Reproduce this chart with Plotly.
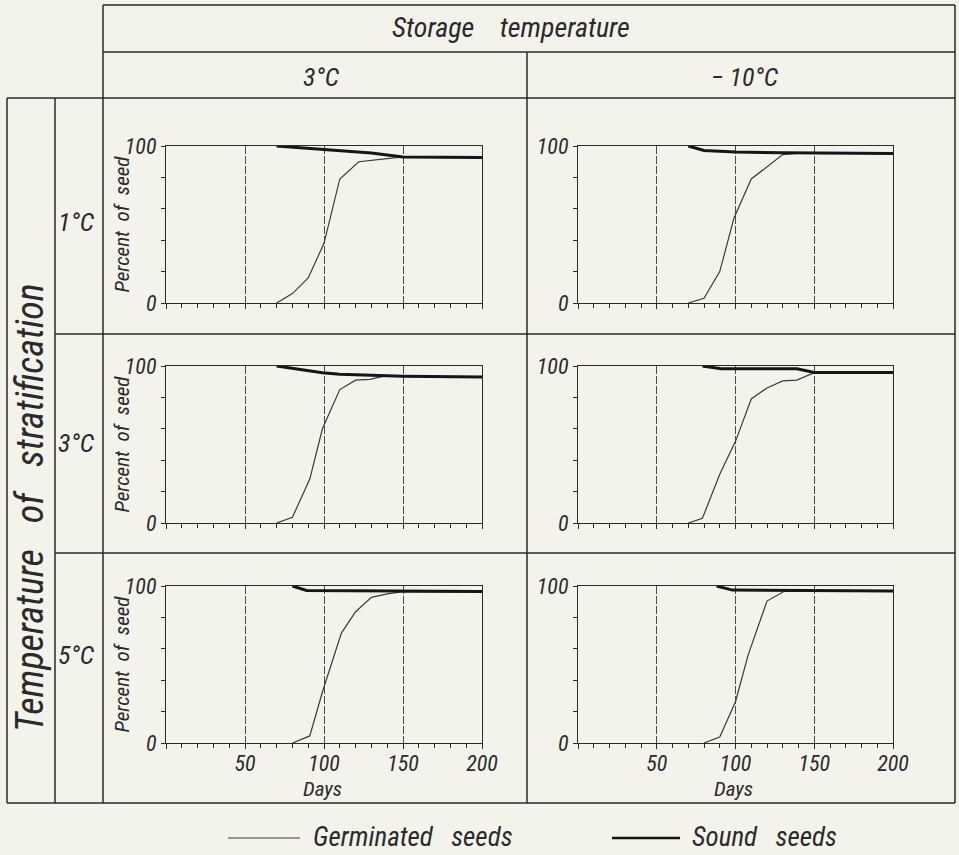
import plotly.graph_objects as go

# ---------------- data ----------------
strat_labels = ["1°C", "3°C", "5°C"]          # temperature of stratification (rows)
storage_labels = ["3°C", "− 10°C"]             # storage temperature (columns)

x_tick_vals = [0, 50, 100, 150, 200]
x_tick_text = ["", "50", "100", "150", "200"]
y_tick_vals = [0, 20, 40, 60, 80, 100]
y_tick_text = ["0", "", "", "", "", "100"]

# stratification 1°C, storage 3°C
germ_days_s1_t3 = [70, 80, 90, 100, 110, 122, 140, 150, 200]
germ_vals_s1_t3 = [0, 6, 16, 38, 79, 90, 92, 93, 93]
sound_days_s1_t3 = [70, 100, 130, 150, 200]
sound_vals_s1_t3 = [100, 97.7, 95.5, 93, 92.6]

# stratification 1°C, storage -10°C
germ_days_s1_tm10 = [70, 80, 90, 99, 110, 120, 130, 140, 200]
germ_vals_s1_tm10 = [0, 3, 20, 54, 79, 87, 94.5, 95.5, 95.3]
sound_days_s1_tm10 = [70, 80, 100, 130, 200]
sound_vals_s1_tm10 = [100, 97.2, 96.2, 95.7, 95.3]

# stratification 3°C, storage 3°C
germ_days_s3_t3 = [70, 80, 91, 99, 110, 120, 129, 138, 200]
germ_vals_s3_t3 = [0, 3.6, 28, 60, 85, 91, 91.5, 93.5, 93]
sound_days_s3_t3 = [70, 89, 99, 110, 150, 200]
sound_vals_s3_t3 = [100, 97, 95.7, 94.7, 93.5, 93]

# stratification 3°C, storage -10°C
germ_days_s3_tm10 = [70, 79, 90, 100, 110, 120, 130, 139, 150, 200]
germ_vals_s3_tm10 = [0, 3, 31, 52, 79, 86, 90.5, 91, 95.8, 95.8]
sound_days_s3_tm10 = [79, 91, 139, 150, 200]
sound_vals_s3_tm10 = [100, 98.3, 98.2, 95.8, 95.8]

# stratification 5°C, storage 3°C
germ_days_s5_t3 = [80, 91, 99, 111, 120, 130, 140, 149, 200]
germ_vals_s5_t3 = [0, 4.5, 32.5, 70, 83.6, 92.8, 95, 96.2, 96.3]
sound_days_s5_t3 = [80, 89, 200]
sound_vals_s5_t3 = [100, 97.2, 96.5]

# stratification 5°C, storage -10°C
germ_days_s5_tm10 = [80, 90, 100, 108, 120, 131, 200]
germ_vals_s5_tm10 = [0, 3.8, 26.3, 56, 90.4, 96.6, 96.7]
sound_days_s5_tm10 = [88, 98, 200]
sound_vals_s5_tm10 = [100, 97.4, 96.8]

panels = [
    (germ_days_s1_t3, germ_vals_s1_t3, sound_days_s1_t3, sound_vals_s1_t3),
    (germ_days_s1_tm10, germ_vals_s1_tm10, sound_days_s1_tm10, sound_vals_s1_tm10),
    (germ_days_s3_t3, germ_vals_s3_t3, sound_days_s3_t3, sound_vals_s3_t3),
    (germ_days_s3_tm10, germ_vals_s3_tm10, sound_days_s3_tm10, sound_vals_s3_tm10),
    (germ_days_s5_t3, germ_vals_s5_t3, sound_days_s5_t3, sound_vals_s5_t3),
    (germ_days_s5_tm10, germ_vals_s5_tm10, sound_days_s5_tm10, sound_vals_s5_tm10),
]

# ---------------- layout helpers ----------------
W, H = 959, 855
FONT = "Liberation Sans Narrow, Roboto Condensed, Roboto, sans-serif"
INK = "#2a2a2a"
PAPER = "#f3f3ec"


def px(x):
    return x / W


def py(y):
    return 1 - y / H


def ann(text, x, y, size, angle=0, xanchor="center"):
    return dict(text=text, x=px(x), y=py(y), xref="paper", yref="paper",
                showarrow=False, textangle=angle, xanchor=xanchor, yanchor="middle",
                font=dict(size=size, family=FONT, color=INK, style="italic"))


col_px = [(166, 482), (578, 893)]
row_px = [(146, 303), (366, 523), (586, 743)]

fig = go.Figure()
layout = dict(
    width=W, height=H, autosize=False,
    margin=dict(l=0, r=0, t=0, b=0, pad=0),
    paper_bgcolor=PAPER, plot_bgcolor=PAPER,
    font=dict(family=FONT, color=INK, size=20, style="italic"),
    showlegend=False,
)
annotations = []

for k, (gd, gv, sd, sv) in enumerate(panels):
    r, c = divmod(k, 2)
    idx = "" if k == 0 else str(k + 1)
    xa, ya = "x" + idx, "y" + idx
    fig.add_trace(go.Scatter(x=gd, y=gv, mode="lines", name="Germinated seeds",
                             line=dict(color="#3a3a3a", width=1.2),
                             xaxis=xa, yaxis=ya, hoverinfo="x+y"))
    fig.add_trace(go.Scatter(x=sd, y=sv, mode="lines", name="Sound seeds",
                             line=dict(color="#151515", width=3),
                             xaxis=xa, yaxis=ya, hoverinfo="x+y"))
    bottom = (r == 2)
    layout["xaxis" + idx] = dict(
        domain=[px(col_px[c][0]), px(col_px[c][1])],
        anchor=ya, range=[0, 200], fixedrange=True, automargin=False,
        tickvals=x_tick_vals,
        ticktext=x_tick_text if bottom else [""] * len(x_tick_vals),
        ticks="outside", ticklen=5, tickwidth=1, tickcolor=INK,
        ticklabelstandoff=-5,
        minor=dict(dtick=10, ticks="outside", ticklen=4, tickcolor=INK, showgrid=False),
        showgrid=True, gridcolor="#4a4a4a", gridwidth=1, griddash="8px,2px",
        showline=True, linecolor=INK, linewidth=1.3, mirror=True,
        zeroline=False,
        tickfont=dict(size=22, family=FONT, style="italic"),
    )
    layout["yaxis" + idx] = dict(
        domain=[py(row_px[r][1]), py(row_px[r][0])],
        anchor=xa, range=[0, 100], fixedrange=True, automargin=False,
        tickvals=y_tick_vals, ticktext=y_tick_text,
        ticks="outside", ticklen=4, tickwidth=1, tickcolor=INK,
        showgrid=False, zeroline=False,
        showline=True, linecolor=INK, linewidth=1.3, mirror=True,
        tickfont=dict(size=22, family=FONT, style="italic"),
    )
    if c == 0:
        annotations.append(ann("Percent  of  seed", 121, (row_px[r][0] + row_px[r][1]) / 2,
                               21, angle=-90))
    if bottom:
        annotations.append(ann("Days", (col_px[c][0] + col_px[c][1]) / 2 - 2, 789, 21))

# ---------------- table frame ----------------
frame = [
    (103, 5, 955, 5), (103, 52, 955, 52), (7, 98, 955, 98),
    (55, 334, 955, 334), (55, 553, 955, 553), (7, 803, 955, 803),
    (7, 98, 7, 803), (55, 98, 55, 803), (103, 5, 103, 803),
    (527, 52, 527, 803), (955, 5, 955, 803),
]
shapes = []
for x0, y0, x1, y1 in frame:
    shapes.append(dict(type="line", xref="paper", yref="paper",
                       x0=px(x0), y0=py(y0), x1=px(x1), y1=py(y1),
                       line=dict(color=INK, width=1.5)))

# legend keys
shapes.append(dict(type="line", xref="paper", yref="paper",
                   x0=px(228), y0=py(838), x1=px(300), y1=py(838),
                   line=dict(color="#3a3a3a", width=1.2)))
shapes.append(dict(type="line", xref="paper", yref="paper",
                   x0=px(612), y0=py(838), x1=px(680), y1=py(838),
                   line=dict(color="#151515", width=2.5)))
layout["shapes"] = shapes

annotations += [
    ann("Storage    temperature", 511, 28, 28),
    ann(storage_labels[0], 321, 77, 26),
    ann(storage_labels[1], 745, 77, 26),
    ann("Temperature   of   stratification", 30, 508, 38, angle=-90),
    ann(strat_labels[0], 76, 222, 26),
    ann(strat_labels[1], 76, 443, 26),
    ann(strat_labels[2], 76, 655, 26),
    ann("Germinated   seeds", 311, 837, 27, xanchor="left"),
    ann("Sound   seeds", 690, 837, 27, xanchor="left"),
]
layout["annotations"] = annotations

fig.update_layout(**layout)
fig.write_html("out.html", config={"displayModeBar": False},
               post_script="document.body.style.margin='0px';")
